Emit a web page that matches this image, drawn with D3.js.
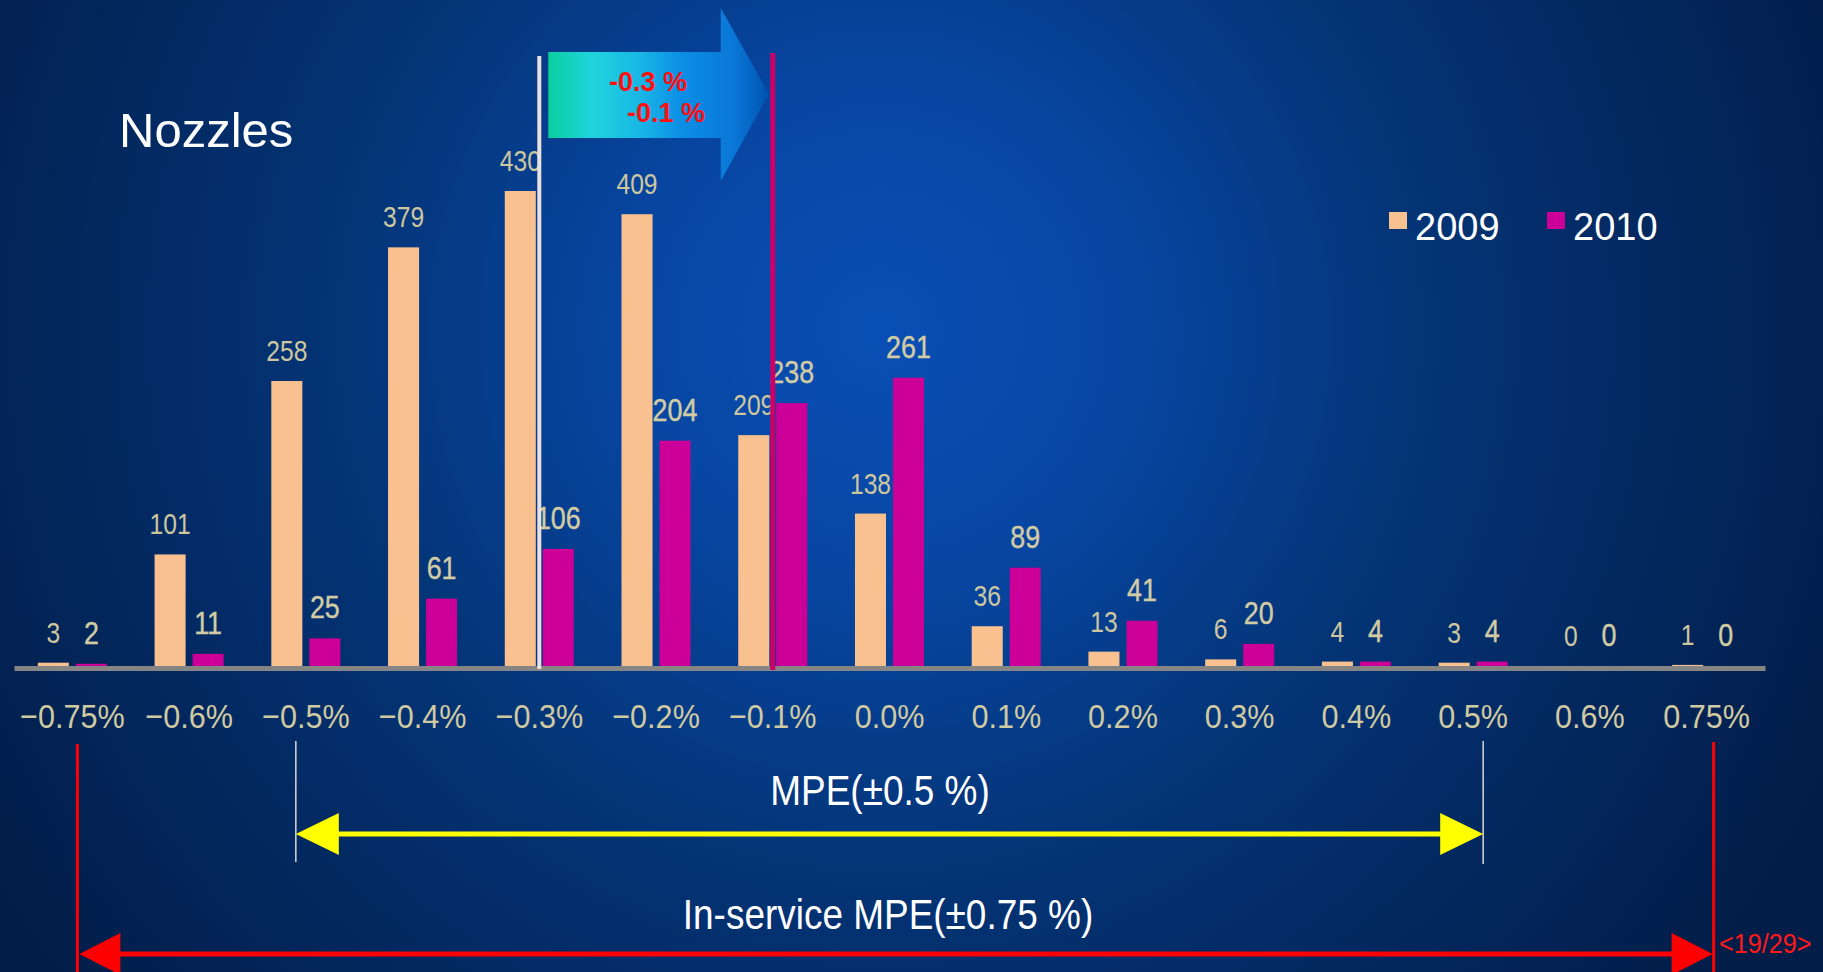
<!DOCTYPE html>
<html>
<head>
<meta charset="utf-8">
<script src="https://cdn.jsdelivr.net/npm/d3@7"></script>
<style>
  html, body { margin: 0; padding: 0; background: #021f4b; overflow: hidden; }
  svg { display: block; }
</style>
</head>
<body>
<svg id="chart" width="1823" height="972"></svg>
<script>
// ---------------- data ----------------
const categories = ["−0.75%", "−0.6%", "−0.5%", "−0.4%", "−0.3%", "−0.2%", "−0.1%", "0.0%", "0.1%", "0.2%", "0.3%", "0.4%", "0.5%", "0.6%", "0.75%"];
const seriesNames = ["2009", "2010"];
const values2009 = [3, 101, 258, 379, 430, 409, 209, 138, 36, 13, 6, 4, 3, 0, 1];
const values2010 = [2, 11, 25, 61, 106, 204, 238, 261, 89, 41, 20, 4, 4, 0, 0];
const seriesColors = ["#F9C18F", "#CC0099"];
const chartTitle = "Nozzles";
const shiftFrom = "−0.3%";
const shiftTo = "−0.1%";
const shiftLabels = ["-0.3 %", "-0.1 %"];
const mpeRange = ["−0.5%", "0.5%"];
const mpeLabel = "MPE(±0.5 %)";
const inServiceRange = ["−0.75%", "0.75%"];
const inServiceLabel = "In-service MPE(±0.75 %)";
const pageLabel = "<19/29>";

// ---------------- setup ----------------
const svg = d3.select("#chart");
const W = 1823, H = 972;
const defs = svg.append("defs");

const bg = defs.append("radialGradient").attr("id", "bg")
  .attr("gradientUnits", "userSpaceOnUse")
  .attr("cx", 880).attr("cy", 330).attr("r", 1050);
[[0, "#0a4fb6"], [0.25, "#0745a0"], [0.5, "#043578"], [0.75, "#03285f"], [1, "#021d48"]]
  .forEach(([o, c]) => bg.append("stop").attr("offset", o).attr("stop-color", c));
svg.append("rect").attr("width", W).attr("height", H).attr("fill", "url(#bg)");

const x = d3.scaleBand().domain(categories).range([14, 1765]).padding(0);
const xs = d3.scaleBand().domain(seriesNames).range([0, x.bandwidth()])
  .paddingInner(0.184).paddingOuter(0.627);
const y = d3.scaleLinear().domain([0, 430]).range([666, 191]);
const xc = c => x(c) + x.bandwidth() / 2;

function condText(g, tx, ty, str, size, sx, fill, anchor, weight) {
  return g.append("text")
    .attr("transform", `translate(${tx},${ty}) scale(${sx},1)`)
    .attr("text-anchor", anchor || "middle")
    .attr("font-family", "'Liberation Sans', Arial, sans-serif")
    .attr("font-size", size)
    .attr("font-weight", weight || "normal")
    .attr("fill", fill)
    .text(str);
}

// ---------------- title ----------------
svg.append("text").attr("x", 119).attr("y", 147)
  .attr("font-family", "'Liberation Sans', Arial, sans-serif")
  .attr("font-size", 49).attr("fill", "#ffffff").text(chartTitle);

// ---------------- axis ----------------
const axisG = svg.append("g").attr("transform", "translate(0,668)")
  .call(d3.axisBottom(x).tickSize(0).tickSizeOuter(0));
axisG.select(".domain").attr("stroke", "#858585").attr("stroke-width", 5);
axisG.selectAll(".tick text")
  .attr("y", 0).attr("dy", null)
  .attr("transform", "translate(0,60) scale(0.9,1)")
  .attr("font-family", "'Liberation Sans', Arial, sans-serif")
  .attr("font-size", 34)
  .attr("fill", "#d0caa2");

// ---------------- bars ----------------
const rows = categories.map((c, i) => ({ cat: c, vals: [values2009[i], values2010[i]] }));
const groups = svg.append("g").selectAll("g.grp").data(rows).join("g")
  .attr("class", "grp").attr("transform", d => `translate(${x(d.cat)},0)`);

groups.selectAll("rect").data(d => d.vals.map((v, k) => ({ s: seriesNames[k], v, k })))
  .join("rect")
  .attr("x", d => xs(d.s)).attr("width", xs.bandwidth())
  .attr("y", d => y(d.v)).attr("height", d => y(0) - y(d.v))
  .attr("fill", d => seriesColors[d.k]);

const labelG = svg.append("g");
rows.forEach(r => {
  r.vals.forEach((v, k) => {
    const cx = x(r.cat) + xs(seriesNames[k]) + xs.bandwidth() / 2;
    if (k === 0) condText(labelG, cx, y(v) - 20, String(v), 29, 0.85, "#cdc7a0");
    else condText(labelG, cx, y(v) - 20, String(v), 32, 0.84, "#d2cca4").attr("stroke", "#d2cca4").attr("stroke-width", 0.4);
  });
});

// ---------------- shift lines & block arrow ----------------
svg.append("line").attr("x1", xc(shiftFrom)).attr("x2", xc(shiftFrom))
  .attr("y1", 56).attr("y2", 669).attr("stroke", "#ebdfe0").attr("stroke-width", 4);
svg.append("line").attr("x1", xc(shiftTo)).attr("x2", xc(shiftTo))
  .attr("y1", 53).attr("y2", 670).attr("stroke", "#cc0066").attr("stroke-width", 5);

const ax0 = xc(shiftFrom) + 9, ax1 = xc(shiftTo) - 4;
const headLen = 48, bodyTop = 52, bodyBot = 138, headTop = 8, headBot = 181, tipY = 94;
const ag = defs.append("linearGradient").attr("id", "arrowGrad")
  .attr("gradientUnits", "userSpaceOnUse")
  .attr("x1", ax0).attr("x2", ax1).attr("y1", 0).attr("y2", 0);
[[0, "#08cf9f"], [0.2, "#20d4dc"], [0.42, "#19b6e6"], [0.6, "#0c8fe6"], [0.85, "#0a76d6"], [1, "#0052b0"]]
  .forEach(([o, c]) => ag.append("stop").attr("offset", o).attr("stop-color", c));
svg.append("path")
  .attr("d", `M${ax0},${bodyTop} L${ax1 - headLen},${bodyTop} L${ax1 - headLen},${headTop} L${ax1},${tipY} L${ax1 - headLen},${headBot} L${ax1 - headLen},${bodyBot} L${ax0},${bodyBot} Z`)
  .attr("fill", "url(#arrowGrad)");
svg.append("text").attr("x", 648).attr("y", 91).attr("text-anchor", "middle")
  .attr("font-family", "'Liberation Sans', Arial, sans-serif").attr("font-weight", "bold")
  .attr("font-size", 27).attr("fill", "#ff1010").text(shiftLabels[0]);
svg.append("text").attr("x", 666).attr("y", 122).attr("text-anchor", "middle")
  .attr("font-family", "'Liberation Sans', Arial, sans-serif").attr("font-weight", "bold")
  .attr("font-size", 27).attr("fill", "#ff1010").text(shiftLabels[1]);

// ---------------- legend ----------------
const legendX = [1389, 1547];
seriesNames.forEach((s, k) => {
  svg.append("rect").attr("x", legendX[k]).attr("y", 212).attr("width", 18).attr("height", 17)
    .attr("fill", seriesColors[k]);
  svg.append("text").attr("x", legendX[k] + 26).attr("y", 240)
    .attr("font-family", "'Liberation Sans', Arial, sans-serif")
    .attr("font-size", 38).attr("fill", "#ffffff").text(s);
});

// ---------------- MPE annotations ----------------
function dblArrow(xl, xr, yy, color, hl, hh, sw) {
  svg.append("line").attr("x1", xl + hl - 2).attr("x2", xr - hl + 2).attr("y1", yy).attr("y2", yy)
    .attr("stroke", color).attr("stroke-width", sw);
  svg.append("path").attr("d", `M${xl},${yy} L${xl + hl},${yy - hh} L${xl + hl},${yy + hh} Z`).attr("fill", color);
  svg.append("path").attr("d", `M${xr},${yy} L${xr - hl},${yy - hh} L${xr - hl},${yy + hh} Z`).attr("fill", color);
}
const mL = xc(mpeRange[0]) - 10, mR = xc(mpeRange[1]) + 10;
svg.append("line").attr("x1", mL).attr("x2", mL).attr("y1", 741).attr("y2", 862).attr("stroke", "#d8d8d8").attr("stroke-width", 1.5);
svg.append("line").attr("x1", mR).attr("x2", mR).attr("y1", 741).attr("y2", 864).attr("stroke", "#d8d8d8").attr("stroke-width", 1.5);
dblArrow(mL, mR, 834, "#ffff00", 43, 21, 5);
condText(svg, 880, 805, mpeLabel, 42, 0.88, "#ffffff");

const iL = xc(inServiceRange[0]) + 5, iR = xc(inServiceRange[1]) + 7;
svg.append("line").attr("x1", iL).attr("x2", iL).attr("y1", 744).attr("y2", 972).attr("stroke", "#ff0000").attr("stroke-width", 3);
svg.append("line").attr("x1", iR).attr("x2", iR).attr("y1", 742).attr("y2", 972).attr("stroke", "#ff0000").attr("stroke-width", 3);
dblArrow(iL + 2, iR - 1, 954, "#ff0000", 41, 21, 5);
condText(svg, 888, 929, inServiceLabel, 42, 0.88, "#ffffff");

condText(svg, 1719, 953, pageLabel, 28, 0.9, "#ff1a1a", "start");
</script>
</body>
</html>
